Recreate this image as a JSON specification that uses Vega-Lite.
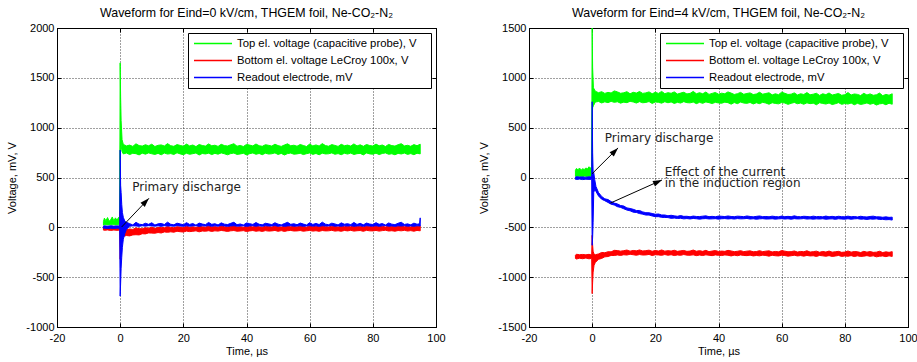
{
  "$schema": "https://vega.github.io/schema/vega-lite/v6.json",
  "padding": {"left": 6, "top": 6, "right": 11, "bottom": 6},
  "background": "white",
  "spacing": 32,
  "resolve": {"scale": {"color": "independent", "x": "independent", "y": "independent"}, "legend": {"color": "independent"}},
  "datasets": {
    "g0": [
      {"t":-5.3,"lo":22,"hi":58},{"t":-5,"lo":25,"hi":92},{"t":-4.5,"lo":28,"hi":66},{"t":-4,"lo":24,"hi":98},{"t":-3.5,"lo":27,"hi":62},{"t":-3,"lo":26,"hi":75},{"t":-2.5,"lo":25,"hi":104},{"t":-2,"lo":28,"hi":64},{"t":-1.5,"lo":24,"hi":95},{"t":-1,"lo":27,"hi":70},{"t":-0.5,"lo":25,"hi":100},{"t":-0.15,"lo":26,"hi":68},
      {"t":0,"lo":640,"hi":1650},{"t":0.15,"lo":950,"hi":1300},{"t":0.3,"lo":820,"hi":1070},{"t":0.6,"lo":760,"hi":880},
      {"t":1,"lo":736,"hi":832},{"t":2,"lo":746,"hi":817},{"t":3,"lo":730,"hi":825},{"t":4,"lo":743,"hi":812},{"t":5,"lo":739,"hi":838},{"t":6,"lo":727,"hi":820},{"t":7,"lo":744,"hi":815},{"t":8,"lo":734,"hi":829},{"t":9,"lo":747,"hi":818},{"t":10,"lo":738,"hi":834},
      {"t":11,"lo":732,"hi":811},{"t":12,"lo":742,"hi":823},{"t":13,"lo":728,"hi":827},{"t":14,"lo":745,"hi":816},{"t":15,"lo":735,"hi":840},{"t":16,"lo":740,"hi":819},{"t":17,"lo":731,"hi":813},{"t":18,"lo":748,"hi":830},{"t":19,"lo":737,"hi":822},{"t":20,"lo":729,"hi":814},
      {"t":21,"lo":743,"hi":835},{"t":22,"lo":733,"hi":817},{"t":23,"lo":739,"hi":826},{"t":24,"lo":746,"hi":810},{"t":25,"lo":726,"hi":831},{"t":26,"lo":741,"hi":821},{"t":27,"lo":736,"hi":815},{"t":28,"lo":744,"hi":837},{"t":29,"lo":730,"hi":818},{"t":30,"lo":742,"hi":824},
      {"t":31,"lo":734,"hi":812},{"t":32,"lo":747,"hi":833},{"t":33,"lo":738,"hi":820},{"t":34,"lo":728,"hi":816},{"t":35,"lo":740,"hi":828},{"t":36,"lo":745,"hi":839},{"t":37,"lo":732,"hi":814},{"t":38,"lo":736,"hi":822},{"t":39,"lo":743,"hi":811},{"t":40,"lo":727,"hi":832},
      {"t":41,"lo":739,"hi":825},{"t":42,"lo":746,"hi":817},{"t":43,"lo":733,"hi":836},{"t":44,"lo":741,"hi":819},{"t":45,"lo":729,"hi":813},{"t":46,"lo":744,"hi":829},{"t":47,"lo":735,"hi":823},{"t":48,"lo":738,"hi":815},{"t":49,"lo":747,"hi":834},{"t":50,"lo":731,"hi":820},
      {"t":51,"lo":742,"hi":812},{"t":52,"lo":726,"hi":826},{"t":53,"lo":740,"hi":838},{"t":54,"lo":745,"hi":818},{"t":55,"lo":734,"hi":824},{"t":56,"lo":737,"hi":814},{"t":57,"lo":743,"hi":831},{"t":58,"lo":730,"hi":821},{"t":59,"lo":739,"hi":811},{"t":60,"lo":746,"hi":835},
      {"t":61,"lo":732,"hi":817},{"t":62,"lo":741,"hi":827},{"t":63,"lo":728,"hi":816},{"t":64,"lo":744,"hi":840},{"t":65,"lo":736,"hi":820},{"t":66,"lo":738,"hi":814},{"t":67,"lo":747,"hi":830},{"t":68,"lo":733,"hi":822},{"t":69,"lo":740,"hi":812},{"t":70,"lo":729,"hi":833},
      {"t":71,"lo":743,"hi":819},{"t":72,"lo":735,"hi":825},{"t":73,"lo":745,"hi":815},{"t":74,"lo":731,"hi":837},{"t":75,"lo":739,"hi":817},{"t":76,"lo":742,"hi":828},{"t":77,"lo":727,"hi":813},{"t":78,"lo":746,"hi":831},{"t":79,"lo":737,"hi":821},{"t":80,"lo":734,"hi":816},
      {"t":81,"lo":744,"hi":835},{"t":82,"lo":730,"hi":818},{"t":83,"lo":741,"hi":826},{"t":84,"lo":747,"hi":811},{"t":85,"lo":733,"hi":832},{"t":86,"lo":738,"hi":820},{"t":87,"lo":728,"hi":815},{"t":88,"lo":742,"hi":829},{"t":89,"lo":736,"hi":839},{"t":90,"lo":745,"hi":817},
      {"t":91,"lo":732,"hi":823},{"t":92,"lo":740,"hi":813},{"t":93,"lo":729,"hi":830},{"t":94,"lo":743,"hi":819},{"t":95,"lo":737,"hi":834}
    ],
    "r0": [
      {"t":-5.3,"lo":-28,"hi":4},{"t":-5,"lo":-30,"hi":8},{"t":-4,"lo":-26,"hi":5},{"t":-3,"lo":-31,"hi":9},{"t":-2,"lo":-27,"hi":6},{"t":-1,"lo":-30,"hi":10},{"t":-0.15,"lo":-28,"hi":7},
      {"t":0,"lo":-320,"hi":160},{"t":0.15,"lo":-200,"hi":60},{"t":0.3,"lo":-130,"hi":10},{"t":0.6,"lo":-100,"hi":-15},
      {"t":1,"lo":-91,"hi":-19},{"t":2,"lo":-82,"hi":-24},{"t":3,"lo":-86,"hi":-17},{"t":4,"lo":-76,"hi":-21},{"t":5,"lo":-74,"hi":-6},{"t":6,"lo":-76,"hi":-13},{"t":7,"lo":-64,"hi":-14},{"t":8,"lo":-66,"hi":-4},{"t":9,"lo":-56,"hi":-9},{"t":10,"lo":-58,"hi":1},
      {"t":11,"lo":-59,"hi":-10},{"t":12,"lo":-52,"hi":-2},{"t":13,"lo":-57,"hi":1},{"t":14,"lo":-46,"hi":-4},{"t":15,"lo":-50,"hi":9},{"t":16,"lo":-45,"hi":-1},{"t":17,"lo":-49,"hi":-3},{"t":18,"lo":-39,"hi":6},{"t":19,"lo":-44,"hi":3},{"t":20,"lo":-47,"hi":-1},
      {"t":21,"lo":-38,"hi":11},{"t":22,"lo":-43,"hi":1},{"t":23,"lo":-40,"hi":6},{"t":24,"lo":-35,"hi":-1},{"t":25,"lo":-45,"hi":10},{"t":26,"lo":-37,"hi":5},{"t":27,"lo":-39,"hi":2},{"t":28,"lo":-34,"hi":14},{"t":29,"lo":-41,"hi":4},{"t":30,"lo":-35,"hi":7},
      {"t":31,"lo":-38,"hi":2},{"t":32,"lo":-31,"hi":13},{"t":33,"lo":-36,"hi":6},{"t":34,"lo":-41,"hi":4},{"t":35,"lo":-35,"hi":10},{"t":36,"lo":-32,"hi":16},{"t":37,"lo":-39,"hi":3},{"t":38,"lo":-37,"hi":7},{"t":39,"lo":-33,"hi":1},{"t":40,"lo":-42,"hi":12},
      {"t":41,"lo":-36,"hi":9},{"t":42,"lo":-32,"hi":4},{"t":43,"lo":-39,"hi":14},{"t":44,"lo":-35,"hi":5},{"t":45,"lo":-41,"hi":2},{"t":46,"lo":-33,"hi":11},{"t":47,"lo":-38,"hi":8},{"t":48,"lo":-36,"hi":3},{"t":49,"lo":-31,"hi":13},{"t":50,"lo":-40,"hi":6},
      {"t":51,"lo":-33,"hi":3},{"t":52,"lo":-41,"hi":10},{"t":53,"lo":-34,"hi":16},{"t":54,"lo":-31,"hi":6},{"t":55,"lo":-37,"hi":9},{"t":56,"lo":-36,"hi":4},{"t":57,"lo":-32,"hi":13},{"t":58,"lo":-39,"hi":8},{"t":59,"lo":-35,"hi":2},{"t":60,"lo":-31,"hi":15},
      {"t":61,"lo":-38,"hi":5},{"t":62,"lo":-34,"hi":11},{"t":63,"lo":-40,"hi":5},{"t":64,"lo":-32,"hi":17},{"t":65,"lo":-36,"hi":7},{"t":66,"lo":-35,"hi":4},{"t":67,"lo":-30,"hi":12},{"t":68,"lo":-38,"hi":8},{"t":69,"lo":-34,"hi":3},{"t":70,"lo":-40,"hi":14},
      {"t":71,"lo":-31,"hi":7},{"t":72,"lo":-36,"hi":11},{"t":73,"lo":-30,"hi":5},{"t":74,"lo":-38,"hi":17},{"t":75,"lo":-34,"hi":6},{"t":76,"lo":-32,"hi":12},{"t":77,"lo":-40,"hi":4},{"t":78,"lo":-30,"hi":14},{"t":79,"lo":-35,"hi":9},{"t":80,"lo":-36,"hi":6},
      {"t":81,"lo":-31,"hi":16},{"t":82,"lo":-38,"hi":7},{"t":83,"lo":-33,"hi":11},{"t":84,"lo":-29,"hi":3},{"t":85,"lo":-37,"hi":14},{"t":86,"lo":-34,"hi":8},{"t":87,"lo":-39,"hi":5},{"t":88,"lo":-32,"hi":13},{"t":89,"lo":-35,"hi":18},{"t":90,"lo":-30,"hi":6},
      {"t":91,"lo":-37,"hi":10},{"t":92,"lo":-33,"hi":4},{"t":93,"lo":-39,"hi":13},{"t":94,"lo":-31,"hi":7},{"t":95,"lo":-35,"hi":15}
    ],
    "b0": [
      {"t":-5.3,"lo":-10,"hi":12},{"t":-5,"lo":-8,"hi":15},{"t":-4,"lo":-12,"hi":11},{"t":-3,"lo":-9,"hi":16},{"t":-2,"lo":-11,"hi":12},{"t":-1,"lo":-8,"hi":14},{"t":-0.15,"lo":-10,"hi":13},
      {"t":0,"lo":-690,"hi":775},{"t":0.15,"lo":-560,"hi":420},{"t":0.3,"lo":-410,"hi":350},{"t":0.5,"lo":-300,"hi":230},{"t":0.7,"lo":-200,"hi":150},{"t":1,"lo":-120,"hi":100},{"t":1.5,"lo":-60,"hi":60},{"t":2,"lo":-20,"hi":50},
      {"t":3,"lo":11,"hi":37},{"t":4,"lo":15,"hi":24},{"t":5,"lo":14,"hi":50},{"t":6,"lo":10,"hi":32},{"t":7,"lo":16,"hi":27},{"t":8,"lo":12,"hi":41},{"t":9,"lo":17,"hi":30},{"t":10,"lo":14,"hi":46},
      {"t":11,"lo":12,"hi":23},{"t":12,"lo":15,"hi":35},{"t":13,"lo":10,"hi":39},{"t":14,"lo":16,"hi":28},{"t":15,"lo":13,"hi":52},{"t":16,"lo":14,"hi":31},{"t":17,"lo":11,"hi":25},{"t":18,"lo":17,"hi":42},{"t":19,"lo":13,"hi":34},{"t":20,"lo":11,"hi":26},
      {"t":21,"lo":15,"hi":47},{"t":22,"lo":12,"hi":29},{"t":23,"lo":14,"hi":38},{"t":24,"lo":16,"hi":22},{"t":25,"lo":10,"hi":43},{"t":26,"lo":15,"hi":33},{"t":27,"lo":13,"hi":27},{"t":28,"lo":16,"hi":49},{"t":29,"lo":11,"hi":30},{"t":30,"lo":15,"hi":36},
      {"t":31,"lo":12,"hi":24},{"t":32,"lo":17,"hi":45},{"t":33,"lo":14,"hi":32},{"t":34,"lo":10,"hi":28},{"t":35,"lo":14,"hi":40},{"t":36,"lo":16,"hi":51},{"t":37,"lo":12,"hi":26},{"t":38,"lo":13,"hi":34},{"t":39,"lo":15,"hi":23},{"t":40,"lo":10,"hi":44},
      {"t":41,"lo":14,"hi":37},{"t":42,"lo":16,"hi":29},{"t":43,"lo":12,"hi":48},{"t":44,"lo":15,"hi":31},{"t":45,"lo":11,"hi":25},{"t":46,"lo":16,"hi":41},{"t":47,"lo":13,"hi":35},{"t":48,"lo":14,"hi":27},{"t":49,"lo":17,"hi":46},{"t":50,"lo":11,"hi":32},
      {"t":51,"lo":15,"hi":24},{"t":52,"lo":10,"hi":38},{"t":53,"lo":14,"hi":50},{"t":54,"lo":16,"hi":30},{"t":55,"lo":12,"hi":36},{"t":56,"lo":13,"hi":26},{"t":57,"lo":15,"hi":43},{"t":58,"lo":11,"hi":33},{"t":59,"lo":14,"hi":23},{"t":60,"lo":16,"hi":47},
      {"t":61,"lo":12,"hi":29},{"t":62,"lo":15,"hi":39},{"t":63,"lo":10,"hi":28},{"t":64,"lo":16,"hi":52},{"t":65,"lo":13,"hi":32},{"t":66,"lo":14,"hi":26},{"t":67,"lo":17,"hi":42},{"t":68,"lo":12,"hi":34},{"t":69,"lo":14,"hi":24},{"t":70,"lo":11,"hi":45},
      {"t":71,"lo":15,"hi":31},{"t":72,"lo":13,"hi":37},{"t":73,"lo":16,"hi":27},{"t":74,"lo":11,"hi":49},{"t":75,"lo":14,"hi":29},{"t":76,"lo":15,"hi":40},{"t":77,"lo":10,"hi":25},{"t":78,"lo":16,"hi":43},{"t":79,"lo":13,"hi":33},{"t":80,"lo":12,"hi":28},
      {"t":81,"lo":16,"hi":47},{"t":82,"lo":11,"hi":30},{"t":83,"lo":15,"hi":38},{"t":84,"lo":17,"hi":23},{"t":85,"lo":12,"hi":44},{"t":86,"lo":14,"hi":32},{"t":87,"lo":10,"hi":27},{"t":88,"lo":15,"hi":41},{"t":89,"lo":13,"hi":51},{"t":90,"lo":16,"hi":29},
      {"t":91,"lo":12,"hi":35},{"t":92,"lo":14,"hi":25},{"t":93,"lo":11,"hi":42},{"t":94,"lo":15,"hi":31},{"t":94.8,"lo":14,"hi":36},{"t":95,"lo":13,"hi":95}
    ],
    "g4": [
      {"t":-5.3,"lo":12,"hi":72},{"t":-5,"lo":10,"hi":90},{"t":-4.5,"lo":14,"hi":78},{"t":-4,"lo":11,"hi":95},{"t":-3.5,"lo":13,"hi":74},{"t":-3,"lo":10,"hi":88},{"t":-2.5,"lo":15,"hi":80},{"t":-2,"lo":12,"hi":96},{"t":-1.5,"lo":11,"hi":85},{"t":-1,"lo":14,"hi":108},{"t":-0.5,"lo":12,"hi":92},{"t":-0.15,"lo":13,"hi":110},
      {"t":0,"lo":600,"hi":1500},{"t":0.15,"lo":700,"hi":1100},{"t":0.4,"lo":720,"hi":900},
      {"t":1,"lo":757,"hi":866},{"t":2,"lo":763,"hi":851},{"t":3,"lo":748,"hi":861},{"t":4,"lo":759,"hi":844},{"t":5,"lo":751,"hi":854},{"t":6,"lo":764,"hi":848},{"t":7,"lo":754,"hi":869},{"t":8,"lo":760,"hi":859},{"t":9,"lo":746,"hi":845},{"t":10,"lo":756,"hi":850},
      {"t":11,"lo":751,"hi":861},{"t":12,"lo":764,"hi":840},{"t":13,"lo":758,"hi":855},{"t":14,"lo":747,"hi":847},{"t":15,"lo":761,"hi":863},{"t":16,"lo":750,"hi":844},{"t":17,"lo":753,"hi":849},{"t":18,"lo":762,"hi":859},{"t":19,"lo":743,"hi":840},{"t":20,"lo":758,"hi":855},
      {"t":21,"lo":754,"hi":844},{"t":22,"lo":746,"hi":864},{"t":23,"lo":760,"hi":841},{"t":24,"lo":750,"hi":851},{"t":25,"lo":758,"hi":845},{"t":26,"lo":743,"hi":859},{"t":27,"lo":754,"hi":837},{"t":28,"lo":747,"hi":847},{"t":29,"lo":761,"hi":855},{"t":30,"lo":751,"hi":839},
      {"t":31,"lo":749,"hi":844},{"t":32,"lo":757,"hi":864},{"t":33,"lo":741,"hi":840},{"t":34,"lo":754,"hi":851},{"t":35,"lo":744,"hi":840},{"t":36,"lo":758,"hi":858},{"t":37,"lo":751,"hi":834},{"t":38,"lo":742,"hi":844},{"t":39,"lo":754,"hi":853},{"t":40,"lo":748,"hi":836},
      {"t":41,"lo":745,"hi":846},{"t":42,"lo":756,"hi":840},{"t":43,"lo":751,"hi":859},{"t":44,"lo":736,"hi":847},{"t":45,"lo":752,"hi":833},{"t":46,"lo":741,"hi":841},{"t":47,"lo":757,"hi":854},{"t":48,"lo":747,"hi":835},{"t":49,"lo":744,"hi":843},{"t":50,"lo":753,"hi":849},
      {"t":51,"lo":738,"hi":832},{"t":52,"lo":750,"hi":838},{"t":53,"lo":741,"hi":855},{"t":54,"lo":754,"hi":836},{"t":55,"lo":747,"hi":843},{"t":56,"lo":735,"hi":850},{"t":57,"lo":750,"hi":829},{"t":58,"lo":743,"hi":840},{"t":59,"lo":739,"hi":831},{"t":60,"lo":752,"hi":856},
      {"t":61,"lo":747,"hi":845},{"t":62,"lo":734,"hi":833},{"t":63,"lo":744,"hi":836},{"t":64,"lo":753,"hi":849},{"t":65,"lo":740,"hi":828},{"t":66,"lo":747,"hi":840},{"t":67,"lo":735,"hi":833},{"t":68,"lo":749,"hi":852},{"t":69,"lo":741,"hi":830},{"t":70,"lo":746,"hi":836},
      {"t":71,"lo":730,"hi":845},{"t":72,"lo":750,"hi":824},{"t":73,"lo":743,"hi":840},{"t":74,"lo":737,"hi":831},{"t":75,"lo":747,"hi":848},{"t":76,"lo":732,"hi":827},{"t":77,"lo":740,"hi":835},{"t":78,"lo":751,"hi":843},{"t":79,"lo":734,"hi":825},{"t":80,"lo":742,"hi":831},
      {"t":81,"lo":737,"hi":852},{"t":82,"lo":747,"hi":828},{"t":83,"lo":730,"hi":838},{"t":84,"lo":744,"hi":834},{"t":85,"lo":733,"hi":822},{"t":86,"lo":739,"hi":845},{"t":87,"lo":748,"hi":828},{"t":88,"lo":735,"hi":839},{"t":89,"lo":744,"hi":825},{"t":90,"lo":727,"hi":830},
      {"t":91,"lo":739,"hi":847},{"t":92,"lo":743,"hi":821},{"t":93,"lo":730,"hi":834},{"t":94,"lo":745,"hi":826},{"t":95,"lo":735,"hi":840}
    ],
    "r4": [
      {"t":-5.3,"lo":-812,"hi":-780},{"t":-5,"lo":-818,"hi":-770},{"t":-4,"lo":-810,"hi":-775},{"t":-3,"lo":-815,"hi":-772},{"t":-2,"lo":-808,"hi":-776},{"t":-1,"lo":-816,"hi":-771},{"t":-0.15,"lo":-811,"hi":-778},
      {"t":0,"lo":-1165,"hi":-580},{"t":0.15,"lo":-1050,"hi":-680},{"t":0.3,"lo":-950,"hi":-740},{"t":0.6,"lo":-880,"hi":-770},
      {"t":1,"lo":-853,"hi":-775},{"t":2,"lo":-821,"hi":-767},{"t":3,"lo":-812,"hi":-752},{"t":4,"lo":-796,"hi":-755},{"t":5,"lo":-793,"hi":-745},{"t":6,"lo":-782,"hi":-746},{"t":7,"lo":-783,"hi":-731},{"t":8,"lo":-777,"hi":-733},{"t":9,"lo":-782,"hi":-739},{"t":10,"lo":-775,"hi":-734},
      {"t":11,"lo":-778,"hi":-728},{"t":12,"lo":-770,"hi":-739},{"t":13,"lo":-775,"hi":-732},{"t":14,"lo":-780,"hi":-736},{"t":15,"lo":-773,"hi":-727},{"t":16,"lo":-778,"hi":-737},{"t":17,"lo":-777,"hi":-734},{"t":18,"lo":-772,"hi":-729},{"t":19,"lo":-783,"hi":-740},{"t":20,"lo":-775,"hi":-732},
      {"t":21,"lo":-777,"hi":-738},{"t":22,"lo":-781,"hi":-727},{"t":23,"lo":-773,"hi":-739},{"t":24,"lo":-780,"hi":-734},{"t":25,"lo":-775,"hi":-738},{"t":26,"lo":-783,"hi":-730},{"t":27,"lo":-777,"hi":-741},{"t":28,"lo":-781,"hi":-736},{"t":29,"lo":-773,"hi":-732},{"t":30,"lo":-779,"hi":-741},
      {"t":31,"lo":-780,"hi":-738},{"t":32,"lo":-776,"hi":-728},{"t":33,"lo":-784,"hi":-740},{"t":34,"lo":-778,"hi":-734},{"t":35,"lo":-783,"hi":-741},{"t":36,"lo":-776,"hi":-731},{"t":37,"lo":-780,"hi":-744},{"t":38,"lo":-784,"hi":-738},{"t":39,"lo":-777,"hi":-733},{"t":40,"lo":-781,"hi":-742},
      {"t":41,"lo":-783,"hi":-738},{"t":42,"lo":-777,"hi":-741},{"t":43,"lo":-780,"hi":-731},{"t":44,"lo":-787,"hi":-737},{"t":45,"lo":-779,"hi":-744},{"t":46,"lo":-785,"hi":-740},{"t":47,"lo":-777,"hi":-734},{"t":48,"lo":-782,"hi":-744},{"t":49,"lo":-784,"hi":-739},{"t":50,"lo":-779,"hi":-736},
      {"t":51,"lo":-787,"hi":-745},{"t":52,"lo":-782,"hi":-743},{"t":53,"lo":-786,"hi":-734},{"t":54,"lo":-779,"hi":-744},{"t":55,"lo":-783,"hi":-739},{"t":56,"lo":-789,"hi":-736},{"t":57,"lo":-780,"hi":-747},{"t":58,"lo":-785,"hi":-742},{"t":59,"lo":-787,"hi":-746},{"t":60,"lo":-780,"hi":-733},
      {"t":61,"lo":-783,"hi":-739},{"t":62,"lo":-789,"hi":-745},{"t":63,"lo":-785,"hi":-744},{"t":64,"lo":-780,"hi":-737},{"t":65,"lo":-787,"hi":-748},{"t":66,"lo":-783,"hi":-742},{"t":67,"lo":-789,"hi":-745},{"t":68,"lo":-782,"hi":-735},{"t":69,"lo":-787,"hi":-748},{"t":70,"lo":-785,"hi":-744},
      {"t":71,"lo":-792,"hi":-739},{"t":72,"lo":-782,"hi":-750},{"t":73,"lo":-786,"hi":-742},{"t":74,"lo":-790,"hi":-748},{"t":75,"lo":-784,"hi":-738},{"t":76,"lo":-792,"hi":-749},{"t":77,"lo":-788,"hi":-745},{"t":78,"lo":-782,"hi":-741},{"t":79,"lo":-792,"hi":-751},{"t":80,"lo":-787,"hi":-748},
      {"t":81,"lo":-790,"hi":-737},{"t":82,"lo":-784,"hi":-749},{"t":83,"lo":-793,"hi":-743},{"t":84,"lo":-786,"hi":-745},{"t":85,"lo":-792,"hi":-753},{"t":86,"lo":-789,"hi":-741},{"t":87,"lo":-784,"hi":-749},{"t":88,"lo":-791,"hi":-743},{"t":89,"lo":-786,"hi":-751},{"t":90,"lo":-796,"hi":-749},
      {"t":91,"lo":-790,"hi":-740},{"t":92,"lo":-787,"hi":-753},{"t":93,"lo":-794,"hi":-746},{"t":94,"lo":-786,"hi":-751},{"t":95,"lo":-792,"hi":-744}
    ],
    "b4": [
      {"t":-5.3,"lo":-18,"hi":4},{"t":-5,"lo":-20,"hi":8},{"t":-4,"lo":-16,"hi":5},{"t":-3,"lo":-21,"hi":6},{"t":-2,"lo":-17,"hi":3},{"t":-1,"lo":-19,"hi":7},{"t":-0.15,"lo":-18,"hi":5},
      {"t":0,"lo":-680,"hi":760},{"t":0.15,"lo":-600,"hi":250},{"t":0.3,"lo":-450,"hi":60},{"t":0.5,"lo":-150,"hi":50},{"t":0.8,"lo":-120,"hi":-20},{"t":1.2,"lo":-140,"hi":-90},{"t":2,"lo":-185,"hi":-150},
      {"t":3,"lo":-218,"hi":-190},{"t":4,"lo":-233,"hi":-214},{"t":5,"lo":-250,"hi":-221},{"t":6,"lo":-268,"hi":-241},{"t":7,"lo":-276,"hi":-257},{"t":8,"lo":-293,"hi":-265},{"t":9,"lo":-300,"hi":-281},{"t":10,"lo":-314,"hi":-286},
      {"t":11,"lo":-327,"hi":-305},{"t":12,"lo":-334,"hi":-311},{"t":13,"lo":-348,"hi":-319},{"t":14,"lo":-351,"hi":-331},{"t":15,"lo":-362,"hi":-331},{"t":16,"lo":-368,"hi":-345},{"t":17,"lo":-377,"hi":-353},{"t":18,"lo":-377,"hi":-354},{"t":19,"lo":-386,"hi":-361},{"t":20,"lo":-393,"hi":-369},
      {"t":21,"lo":-393,"hi":-366},{"t":22,"lo":-400,"hi":-376},{"t":23,"lo":-401,"hi":-376},{"t":24,"lo":-402,"hi":-384},{"t":25,"lo":-410,"hi":-379},{"t":26,"lo":-407,"hi":-385},{"t":27,"lo":-411,"hi":-389},{"t":28,"lo":-409,"hi":-382},{"t":29,"lo":-415,"hi":-390},{"t":30,"lo":-412,"hi":-389},
      {"t":31,"lo":-416,"hi":-394},{"t":32,"lo":-411,"hi":-387},{"t":33,"lo":-414,"hi":-391},{"t":34,"lo":-418,"hi":-392},{"t":35,"lo":-414,"hi":-388},{"t":36,"lo":-412,"hi":-385},{"t":37,"lo":-416,"hi":-393},{"t":38,"lo":-415,"hi":-390},{"t":39,"lo":-413,"hi":-394},{"t":40,"lo":-418,"hi":-387},
      {"t":41,"lo":-414,"hi":-389},{"t":42,"lo":-412,"hi":-392},{"t":43,"lo":-416,"hi":-386},{"t":44,"lo":-413,"hi":-391},{"t":45,"lo":-417,"hi":-393},{"t":46,"lo":-412,"hi":-388},{"t":47,"lo":-415,"hi":-390},{"t":48,"lo":-414,"hi":-393},{"t":49,"lo":-411,"hi":-386},{"t":50,"lo":-417,"hi":-391},
      {"t":51,"lo":-414,"hi":-395},{"t":52,"lo":-419,"hi":-390},{"t":53,"lo":-415,"hi":-386},{"t":54,"lo":-413,"hi":-393},{"t":55,"lo":-417,"hi":-391},{"t":56,"lo":-416,"hi":-394},{"t":57,"lo":-414,"hi":-388},{"t":58,"lo":-418,"hi":-392},{"t":59,"lo":-415,"hi":-395},{"t":60,"lo":-413,"hi":-387},
      {"t":61,"lo":-417,"hi":-393},{"t":62,"lo":-414,"hi":-390},{"t":63,"lo":-419,"hi":-393},{"t":64,"lo":-413,"hi":-385},{"t":65,"lo":-416,"hi":-392},{"t":66,"lo":-415,"hi":-394},{"t":67,"lo":-412,"hi":-389},{"t":68,"lo":-417,"hi":-391},{"t":69,"lo":-415,"hi":-395},{"t":70,"lo":-418,"hi":-388},
      {"t":71,"lo":-415,"hi":-393},{"t":72,"lo":-417,"hi":-391},{"t":73,"lo":-414,"hi":-395},{"t":74,"lo":-419,"hi":-387},{"t":75,"lo":-416,"hi":-394},{"t":76,"lo":-415,"hi":-390},{"t":77,"lo":-420,"hi":-395},{"t":78,"lo":-414,"hi":-389},{"t":79,"lo":-417,"hi":-393},{"t":80,"lo":-418,"hi":-394},
      {"t":81,"lo":-414,"hi":-388},{"t":82,"lo":-419,"hi":-394},{"t":83,"lo":-415,"hi":-391},{"t":84,"lo":-413,"hi":-396},{"t":85,"lo":-418,"hi":-389},{"t":86,"lo":-417,"hi":-394},{"t":87,"lo":-421,"hi":-396},{"t":88,"lo":-416,"hi":-391},{"t":89,"lo":-418,"hi":-388},{"t":90,"lo":-415,"hi":-395},
      {"t":91,"lo":-421,"hi":-395},{"t":92,"lo":-420,"hi":-399},{"t":93,"lo":-424,"hi":-395},{"t":94,"lo":-422,"hi":-400},{"t":95,"lo":-427,"hi":-398}
    ],
    "notes0": [{"t": 3.85, "v": 407, "label": "Primary discharge"}],
    "notes4": [
      {"t": 3.97, "v": 397, "label": "Primary discharge"},
      {"t": 22.97, "v": 54, "label": "Effect of the current"},
      {"t": 22.97, "v": -51, "label": "in the induction region"}
    ]
  },
  "hconcat": [
    {
      "width": 379,
      "height": 299,
      "title": {"text": "Waveform for Eind=0 kV/cm, THGEM foil, Ne-CO₂-N₂"},
      "resolve": {"axis": {"x": "independent", "y": "independent"}},
      "layer": [
        {
          "data": {"name": "g0"},
          "mark": {"type": "area", "stroke": "#00ff00", "strokeWidth": 1, "clip": true},
          "encoding": {
            "x": {"field": "t", "type": "quantitative", "title": "Time, µs", "scale": {"domain": [-20, 100], "nice": false}, "axis": {"values": [-20, 0, 20, 40, 60, 80, 100], "labelExpr": "'' + datum.value"}},
            "y": {"field": "lo", "type": "quantitative", "title": "Voltage, mV, V", "scale": {"domain": [-1000, 2000], "nice": false}, "axis": {"values": [-1000, -500, 0, 500, 1000, 1500, 2000], "labelExpr": "'' + datum.value"}},
            "y2": {"field": "hi"},
            "color": {"datum": "Top el. voltage (capacitive probe), V", "type": "nominal", "scale": {"domain": ["Top el. voltage (capacitive probe), V", "Bottom el. voltage LeCroy 100x, V", "Readout electrode, mV"], "range": ["#00ff00", "#ff0000", "#0000ff"]}, "legend": {"title": " ", "titleOrient": "right", "titlePadding": 11}}
          }
        },
        {
          "data": {"name": "r0"},
          "mark": {"type": "area", "stroke": "#ff0000", "strokeWidth": 1, "clip": true},
          "encoding": {
            "x": {"field": "t", "type": "quantitative", "axis": null},
            "y": {"field": "lo", "type": "quantitative", "axis": null},
            "y2": {"field": "hi"},
            "color": {"datum": "Bottom el. voltage LeCroy 100x, V", "type": "nominal"}
          }
        },
        {
          "data": {"name": "b0"},
          "mark": {"type": "area", "stroke": "#0000ff", "strokeWidth": 1, "clip": true},
          "encoding": {
            "x": {"field": "t", "type": "quantitative", "axis": null},
            "y": {"field": "lo", "type": "quantitative", "axis": null},
            "y2": {"field": "hi"},
            "color": {"datum": "Readout electrode, mV", "type": "nominal"}
          }
        },
        {
          "data": {"values": [{"t1": 0.46, "v1": 3, "t2": 9.1, "v2": 291}]},
          "mark": {"type": "rule", "color": "#000", "strokeWidth": 1},
          "encoding": {
            "x": {"field": "t1", "type": "quantitative", "axis": null},
            "y": {"field": "v1", "type": "quantitative", "axis": null},
            "x2": {"field": "t2"},
            "y2": {"field": "v2"}
          }
        },
        {
          "data": {"values": [{"t2": 9.1, "v2": 291}]},
          "mark": {"type": "point", "shape": "M0,0L0.6,1.8L-0.6,1.8Z", "size": 100, "filled": true, "color": "#000", "opacity": 1, "angle": 44},
          "encoding": {
            "x": {"field": "t2", "type": "quantitative", "axis": null},
            "y": {"field": "v2", "type": "quantitative", "axis": null}
          }
        },
        {
          "data": {"name": "notes0"},
          "mark": {"type": "text", "align": "left", "baseline": "middle", "font": "DejaVu Sans", "fontSize": 12, "color": "#222"},
          "encoding": {
            "x": {"field": "t", "type": "quantitative", "axis": {"orient": "top", "values": [-20, 0, 20, 40, 60, 80, 100], "labels": false, "grid": false, "domain": false, "title": null}},
            "y": {"field": "v", "type": "quantitative", "axis": {"orient": "right", "values": [-1000, -500, 0, 500, 1000, 1500, 2000], "labels": false, "grid": false, "domain": false, "title": null}},
            "text": {"field": "label"}
          }
        }
      ]
    },
    {
      "width": 379,
      "height": 299,
      "title": {"text": "Waveform for Eind=4 kV/cm, THGEM foil, Ne-CO₂-N₂"},
      "resolve": {"axis": {"x": "independent", "y": "independent"}},
      "layer": [
        {
          "data": {"name": "g4"},
          "mark": {"type": "area", "stroke": "#00ff00", "strokeWidth": 1, "clip": true},
          "encoding": {
            "x": {"field": "t", "type": "quantitative", "title": "Time, µs", "scale": {"domain": [-20, 100], "nice": false}, "axis": {"values": [-20, 0, 20, 40, 60, 80, 100], "labelExpr": "'' + datum.value"}},
            "y": {"field": "lo", "type": "quantitative", "title": "Voltage, mV, V", "scale": {"domain": [-1500, 1500], "nice": false}, "axis": {"values": [-1500, -1000, -500, 0, 500, 1000, 1500], "labelExpr": "'' + datum.value"}},
            "y2": {"field": "hi"},
            "color": {"datum": "Top el. voltage (capacitive probe), V", "type": "nominal", "scale": {"domain": ["Top el. voltage (capacitive probe), V", "Bottom el. voltage LeCroy 100x, V", "Readout electrode, mV"], "range": ["#00ff00", "#ff0000", "#0000ff"]}, "legend": {"title": " ", "titleOrient": "right", "titlePadding": 11}}
          }
        },
        {
          "data": {"name": "r4"},
          "mark": {"type": "area", "stroke": "#ff0000", "strokeWidth": 1, "clip": true},
          "encoding": {
            "x": {"field": "t", "type": "quantitative", "axis": null},
            "y": {"field": "lo", "type": "quantitative", "axis": null},
            "y2": {"field": "hi"},
            "color": {"datum": "Bottom el. voltage LeCroy 100x, V", "type": "nominal"}
          }
        },
        {
          "data": {"name": "b4"},
          "mark": {"type": "area", "stroke": "#0000ff", "strokeWidth": 1, "clip": true},
          "encoding": {
            "x": {"field": "t", "type": "quantitative", "axis": null},
            "y": {"field": "lo", "type": "quantitative", "axis": null},
            "y2": {"field": "hi"},
            "color": {"datum": "Readout electrode, mV", "type": "nominal"}
          }
        },
        {
          "data": {"values": [{"t1": -0.05, "v1": 37, "t2": 8.2, "v2": 297}, {"t1": 5.75, "v1": -257, "t2": 22.1, "v2": -25}]},
          "mark": {"type": "rule", "color": "#000", "strokeWidth": 1},
          "encoding": {
            "x": {"field": "t1", "type": "quantitative", "axis": null},
            "y": {"field": "v1", "type": "quantitative", "axis": null},
            "x2": {"field": "t2"},
            "y2": {"field": "v2"}
          }
        },
        {
          "data": {"values": [{"t2": 8.2, "v2": 297}]},
          "mark": {"type": "point", "shape": "M0,0L0.6,1.8L-0.6,1.8Z", "size": 100, "filled": true, "color": "#000", "opacity": 1, "angle": 45},
          "encoding": {
            "x": {"field": "t2", "type": "quantitative", "axis": null},
            "y": {"field": "v2", "type": "quantitative", "axis": null}
          }
        },
        {
          "data": {"values": [{"t2": 22.1, "v2": -25}]},
          "mark": {"type": "point", "shape": "M0,0L0.6,1.8L-0.6,1.8Z", "size": 100, "filled": true, "color": "#000", "opacity": 1, "angle": 66},
          "encoding": {
            "x": {"field": "t2", "type": "quantitative", "axis": null},
            "y": {"field": "v2", "type": "quantitative", "axis": null}
          }
        },
        {
          "data": {"name": "notes4"},
          "mark": {"type": "text", "align": "left", "baseline": "middle", "font": "DejaVu Sans", "fontSize": 12, "color": "#222"},
          "encoding": {
            "x": {"field": "t", "type": "quantitative", "axis": {"orient": "top", "values": [-20, 0, 20, 40, 60, 80, 100], "labels": false, "grid": false, "domain": false, "title": null}},
            "y": {"field": "v", "type": "quantitative", "axis": {"orient": "right", "values": [-1500, -1000, -500, 0, 500, 1000, 1500], "labels": false, "grid": false, "domain": false, "title": null}},
            "text": {"field": "label"}
          }
        }
      ]
    }
  ],
  "config": {
    "font": "Liberation Sans",
    "view": {"stroke": "#000", "strokeWidth": 1},
    "axis": {
      "labelFont": "Liberation Sans", "labelFontSize": 11, "labelColor": "#000", "labelFlush": false, "labelOverlap": false, "labelPadding": 7,
      "titleFont": "Liberation Sans", "titleFontSize": 11, "titleFontWeight": "normal", "titleColor": "#000",
      "grid": true, "gridColor": "#000", "gridDash": [1, 2], "gridOpacity": 0.75, "gridWidth": 1,
      "domainColor": "#000", "tickColor": "#000", "tickSize": -4
    },
    "axisX": {"labelPadding": 9, "titlePadding": 2},
    "axisY": {"titlePadding": 8},
    "legend": {
      "orient": "top-right", "offset": 5, "padding": 3,
      "strokeColor": "#000", "fillColor": "#fff", "cornerRadius": 0,
      "labelFont": "Liberation Sans", "labelFontSize": 11.3, "labelColor": "#000", "labelOffset": 5, "labelLimit": 400,
      "titleFont": "Liberation Sans", "titleFontSize": 11,
      "symbolType": "M-1,-0.04H1V0.04H-1Z", "symbolSize": 1444, "symbolStrokeWidth": 0, "symbolOpacity": 1, "symbolOffset": 3,
      "clipHeight": 15, "rowPadding": 2
    },
    "title": {"font": "Liberation Sans", "fontSize": 12.4, "fontWeight": "normal", "color": "#000", "frame": "group", "anchor": "middle", "offset": 3}
  }
}
